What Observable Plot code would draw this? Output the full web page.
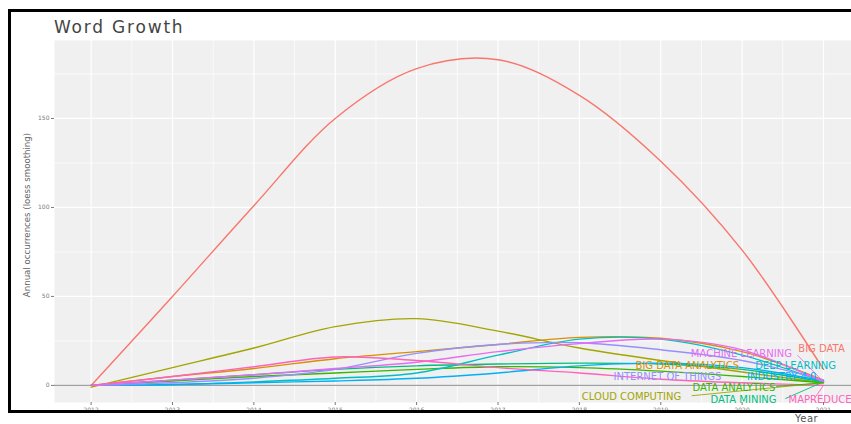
<!DOCTYPE html>
<html><head><meta charset="utf-8">
<script src="https://cdn.jsdelivr.net/npm/d3@7"></script>
<script src="https://cdn.jsdelivr.net/npm/@observablehq/plot@0.6"></script>
<style>
body{margin:0;background:#fff;overflow:hidden;font-family:"DejaVu Sans",sans-serif}
#wrap{position:relative;width:851px;height:424px;overflow:hidden;background:#fff}
#chart{position:absolute;left:0;top:0}
#title{position:absolute;left:54px;top:17px;font-size:17px;line-height:20px;color:#444;letter-spacing:1.8px;white-space:nowrap}
#ylab{position:absolute;left:-73px;top:209px;width:200px;text-align:center;font-size:8.6px;line-height:12px;color:#666;transform:rotate(-90deg);transform-origin:center;white-space:nowrap}
#xlab{position:absolute;left:795px;top:413px;font-size:10px;line-height:12px;color:#555;letter-spacing:0.5px}
#frame{position:absolute;left:8px;top:9px;width:900px;height:404px;border:3px solid #000;box-sizing:border-box;pointer-events:none}
</style>
</head><body>
<div id="wrap">
<div id="chart"></div>
<div id="title">Word Growth</div>
<div id="ylab">Annual occurrences (loess smoothing)</div>
<div id="xlab">Year</div>
<div id="frame"></div>
</div>
<script>
const years = [2012, 2013, 2014, 2015, 2016, 2017, 2018, 2019, 2020, 2021];
const terms = ["BIG DATA", "BIG DATA ANALYTICS", "CLOUD COMPUTING", "DATA ANALYTICS", "DATA MINING",
  "DEEP LEARNING", "INDUSTRY 4.0", "INTERNET OF THINGS", "MACHINE LEARNING", "MAPREDUCE"];
const colors = ["#F8766D", "#D89000", "#A3A500", "#39B600", "#00BF7D", "#00BFC4", "#00B0F6", "#9590FF", "#E76BF3", "#FF62BC"];

const bigData          = [0, 50, 101, 150, 178, 183, 163, 126, 76, 9];
const bigDataAnalytics = [0, 5, 9.5, 15, 19, 23, 27, 26.5, 19, 3];
const cloudComputing   = [-1, 10, 21, 33, 37.5, 30.5, 21, 14, 7.5, 1.5];
const dataAnalytics    = [0, 2.5, 5, 7, 9, 10.5, 10, 8, 5, 1.5];
const dataMining       = [0, 3, 6, 9, 11, 12, 12.5, 12, 9, 2];
const deepLearning     = [0, 0.5, 2, 4, 7, 17, 26, 26, 17, 2];
const industry40       = [0, 0.5, 1.5, 2.5, 4, 7, 11, 12.5, 10, 2.5];
const internetOfThings = [0, 1.5, 4, 9, 18, 23, 24, 20, 14, 3];
const machineLearning  = [0, 3, 6, 9.5, 13, 19, 23.5, 26, 20, 2];
const mapReduce        = [0, 5, 10.5, 16, 14, 10, 7, 3.5, 1.5, 0];

const series = [bigData, bigDataAnalytics, cloudComputing, dataAnalytics, dataMining,
  deepLearning, industry40, internetOfThings, machineLearning, mapReduce];

// repelled label anchors (data units: year, value)
const labelYear  = [2020.69, 2018.69, 2018.03, 2019.39, 2019.61, 2020.16, 2020.06, 2018.42, 2019.37, 2020.57];
const labelValue = [20.8, 11.3, -6.2, -1.1, -7.9, 11.3, 4.9, 4.9, 18.0, -7.9];
// connector segments: term index, start year/value
const segTerm  = [2, 4, 9, 8, 3];
const segYear  = [2019.38, 2020.53, 2020.9, 2020.68, 2020.42];
const segValue = [-5.8, -7.4, -6.5, 17, -0.6];

const yTicks = [0, 50, 100, 150];
const yMinor = [25, 75, 125, 175];
const xMinor = [2011.5, 2012.5, 2013.5, 2014.5, 2015.5, 2016.5, 2017.5, 2018.5, 2019.5, 2020.5];

const rows = terms.flatMap((t, i) => years.map((yr, j) => ({term: t, year: yr, value: series[i][j]})));
const labels = terms.map((t, i) => ({term: t, x: labelYear[i], y: labelValue[i]}));
const segs = segTerm.map((k, i) => ({term: terms[k], x1: segYear[i], y1: segValue[i], x2: 2021, y2: series[k][9]}));

const chart = Plot.plot({
  width: 851, height: 424,
  marginLeft: 54, marginRight: 0, marginTop: 40, marginBottom: 22,
  x: {domain: [2011.55, 2021.344]},
  y: {domain: [-9.6, 193.8]},
  color: {domain: terms, range: colors},
  style: {fontFamily: "DejaVu Sans", color: "#7a7a7a", background: "transparent", overflow: "visible"},
  marks: [
    Plot.frame({fill: "#F0F0F0", stroke: null}),
    Plot.gridX(xMinor, {stroke: "#fff", strokeOpacity: 1, strokeWidth: 0.7}),
    Plot.gridX(years, {stroke: "#fff", strokeOpacity: 1, strokeWidth: 1.2}),
    Plot.gridY(yMinor, {stroke: "#fff", strokeOpacity: 1, strokeWidth: 0.7}),
    Plot.gridY(yTicks, {stroke: "#fff", strokeOpacity: 1, strokeWidth: 1.2}),
    Plot.ruleY([0], {stroke: "#a0a0a0", strokeWidth: 1.4}),
    Plot.line(rows, {x: "year", y: "value", z: "term", stroke: "term", curve: "catmull-rom", strokeWidth: 1.4}),
    Plot.link(segs, {x1: "x1", y1: "y1", x2: "x2", y2: "y2", stroke: "term", strokeWidth: 0.9}),
    Plot.text(labels, {x: "x", y: "y", text: "term", fill: "term", textAnchor: "start", fontSize: 10, fontFamily: "DejaVu Sans"}),
    Plot.axisX({ticks: years, tickFormat: d => String(d), tickSize: 3, tickPadding: 2, fontSize: 6, label: null}),
    Plot.axisY({ticks: yTicks, tickSize: 3, tickPadding: 2, fontSize: 6, label: null})
  ]
});
document.getElementById("chart").appendChild(chart);
</script>
</body></html>
